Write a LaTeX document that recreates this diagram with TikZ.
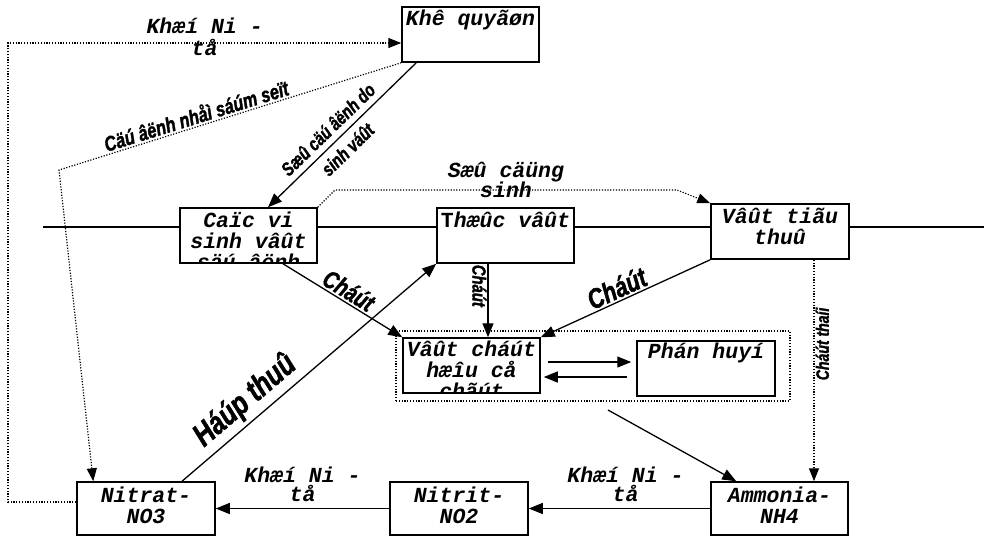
\documentclass[tikz,border=0pt]{standalone}
\usepackage{fontspec}
\newfontfamily\boxfnt{Liberation Mono}
\newfontfamily\handfnt{Liberation Sans}[FakeStretch=0.78, FakeBold=1.5]
\usetikzlibrary{arrows.meta}
\tikzset{
  box/.style={draw, line width=1.5pt, fill=white, inner sep=0pt, minimum width=137pt, minimum height=55pt},
  mydots/.style={line width=1.2pt, dash pattern=on 1.2pt off 1.6pt},
  grpbox/.style={draw, mydots, inner sep=0pt, minimum width=394pt, minimum height=70pt},
  txt/.style={font=\boxfnt\bfseries\itshape\fontsize{21.5}{21}\selectfont, inner sep=0pt, anchor=base, text height=13pt, text depth=3pt},
  hand/.style={font=\handfnt\bfseries\itshape\fontsize{#1}{#1}\selectfont, inner sep=1pt},
  arr/.style={line width=1.3pt, -{Triangle[length=14pt,width=11pt]}},
  rarr/.style={line width=1.3pt, {Triangle[length=14pt,width=11pt]}-},
  dotarr/.style={mydots, -{Triangle[length=13pt,width=10pt]}},
  rdotarr/.style={mydots, {Triangle[length=13pt,width=10pt]}-},
}
\begin{document}
\begin{tikzpicture}[x=1pt,y=-1pt]
\useasboundingbox (0,0) rectangle (984,539);
\coordinate (hl) at (43,227);
\coordinate (hr) at (984,227);
\draw[line width=1.5pt] (hl) -- (hr);

\node[grpbox] (grp) at (593,366) {};
\node[box] (kq) at (470.5,34.5) {};
\node[box] (cv) at (248.5,235.5) {};
\node[box] (tv) at (505.5,235.5) {};
\node[box, minimum width=138pt] (vtt) at (780,231.5) {};
\node[box] (vc) at (471.5,365.5) {};
\node[box, minimum width=138pt] (ph) at (706,368.5) {};
\node[box, minimum width=138pt, minimum height=53pt] (nitrat) at (146,508.5) {};
\node[box, minimum width=138pt, minimum height=53pt] (nitrit) at (459,508.5) {};
\node[box, minimum height=53pt] (amm) at (779.5,508.5) {};

% box texts
\node[txt] (t1) at (470.5,25) {Khê quyãøn};
\begin{scope}
\clip ([shift={(1pt,-1pt)}]cv.north west) rectangle ([shift={(-1pt,1pt)}]cv.south east);
\node[txt] (t2) at (248.5,227) {Caïc vi};
\node[txt] (t3) at (248.5,248) {sinh vâût};
\node[txt] (t4) at (248.5,269) {säú âënh};
\end{scope}
\node[txt] (t5) at (505.5,227) {{\upshape T}hæûc vâût};
\node[txt] (t6) at (780,223) {Vâût tiãu};
\node[txt] (t7) at (780,244) {thuû};
\begin{scope}
\clip ([shift={(1pt,-1pt)}]vc.north west) rectangle ([shift={(-1pt,1pt)}]vc.south east);
\node[txt] (t8) at (471.5,356) {Vâût cháút};
\node[txt] (t9) at (471.5,377) {hæîu cå};
\node[txt] (t10) at (471.5,398) {chãút};
\end{scope}
\node[txt] (t11) at (706,358) {Phán huyí};
\node[txt] (t12) at (146,502) {Nitrat-};
\node[txt] (t13) at (146,523) {NO3};
\node[txt] (t14) at (459,502) {Nitrit-};
\node[txt] (t15) at (459,523) {NO2};
\node[txt] (t16) at (779.5,502) {Ammonia-};
\node[txt] (t17) at (779.5,523) {NH4};

% outer dotted loop Nitrat -> Khi quyen
\coordinate (tl) at (8,43);
\draw[dotarr] ([yshift=6.5pt]nitrat.west) -| (tl)
  -- node[txt, yshift=10pt] (l1) {Khæí Ni -} node[txt, yshift=-12pt] (l2) {tå} ([yshift=-8.5pt]kq.west);

% Khi quyen -> Nitrat (dotted, lightning)
\coordinate (bend) at (59,170);
\draw[rdotarr] ([xshift=17pt]nitrat.north west) -- (bend)
  -- node[hand=21, sloped, pos=0.41, above=1pt] (l3) {Cäú âënh nhåì sáúm seït} (kq.south west);

% Khi quyen -> vi sinh
\draw[rarr] ([xshift=19.5pt]cv.north) -- node[hand=19, sloped, pos=0.47, align=center, font=\handfnt\bfseries\itshape\fontsize{19}{28}\selectfont] (l4) {Sæû cäú âënh do\\sinh váût} ([xshift=15pt]kq.south west);

% cong sinh
\coordinate (cs1) at (335,190);
\coordinate (cs2) at (677,190);
\draw[dotarr] (cv.north east) -- (cs1)
  -- node[txt, yshift=13pt] (l6) {Sæû cäüng} node[txt, yshift=-7pt] (l7) {sinh} (cs2) -- (vtt.north west);

% vi sinh -> vat chat
\draw[arr] ([xshift=34.5pt]cv.south) -- node[hand=25, sloped, above=1pt] (l8) {Cháút} (vc.north west);

% Nitrat -> Thuc vat
\draw[arr] ([xshift=36pt]nitrat.north) -- node[hand=32, sloped, above=3pt, pos=0.3] (l9) {Háúp thuû} (tv.south west);

% Thuc vat -> vat chat
\draw[arr] ([xshift=-17.5pt]tv.south) -- node[hand=19, rotate=-90, anchor=north, pos=0.3] (l10) {Cháút} ([xshift=16.5pt]vc.north);

% Vat tieu thu -> vat chat
\draw[rarr] (vc.north east) -- node[hand=28, sloped, above=1pt, pos=0.48] (l11) {Cháút} (vtt.south west);

% Vat tieu thu -> Ammonia
\draw[dotarr] ([xshift=34pt]vtt.south) -- node[hand=18, rotate=90, anchor=north, pos=0.38] (l12) {Cháút thaíi} ([xshift=34.5pt]amm.north);

% group -> Ammonia
\coordinate (gs) at (608,410);
\draw[arr] (gs) -- ([xshift=26pt]amm.north west);

% vat chat <-> phan huy
\draw[arr] ([xshift=7pt,yshift=3.5pt]vc.east) -- ([xshift=-5pt,yshift=6.5pt]ph.west);
\draw[arr] ([xshift=-9pt,yshift=-8.5pt]ph.west) -- ([xshift=3pt,yshift=-11.5pt]vc.east);

% bottom chain
\draw[arr] (amm.west) -- node[txt, yshift=26.5pt, xshift=6pt] (l13) {Khæí Ni -} node[txt, yshift=7.5pt, xshift=6pt] (l14) {tå} (nitrit.east);
\draw[arr] (nitrit.west) -- node[txt, yshift=26.5pt] (l15) {Khæí Ni -} node[txt, yshift=7.5pt] (l16) {tå} (nitrat.east);
\end{tikzpicture}
\end{document}
